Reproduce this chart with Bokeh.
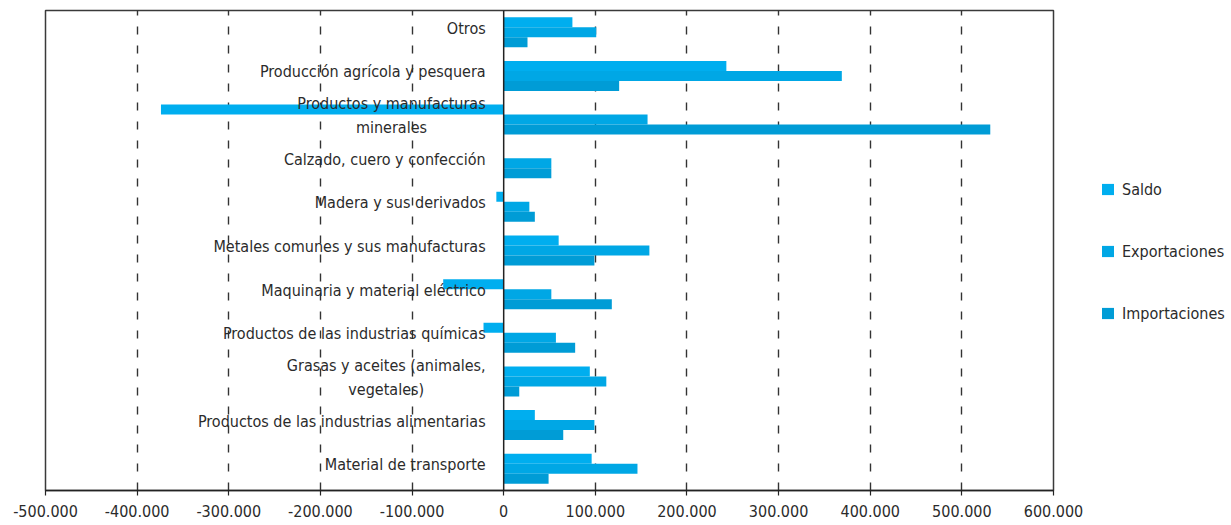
from bokeh.plotting import figure
from bokeh.models import Range1d, FactorRange, FixedTicker, Span, Legend, LegendItem, ColumnDataSource
from bokeh.transform import dodge
from bokeh.embed import file_html
from bokeh.resources import INLINE
from bokeh.core.properties import value

categories = [
    "Otros",
    "Producción agrícola y pesquera",
    "Productos y manufacturas\nminerales",
    "Calzado, cuero y confección",
    "Madera y sus derivados",
    "Metales comunes y sus manufacturas",
    "Maquinaria y material eléctrico",
    "Productos de las industrias químicas",
    "Grasas y aceites (animales,\nvegetales)",
    "Productos de las industrias alimentarias",
    "Material de transporte",
]
saldo = [75000, 243000, -374000, 0, -8000, 60000, -66000, -22000, 94000, 34000, 96000]
exportaciones = [101000, 369000, 157000, 52000, 28000, 159000, 52000, 57000, 112000, 99000, 146000]
importaciones = [26000, 126000, 531000, 52000, 34000, 99000, 118000, 78000, 17000, 65000, 49000]

series_names = ["Saldo", "Exportaciones", "Importaciones"]
colors = ["#00AEEF", "#00A7E5", "#009CD6"]

tick_values = [-500000, -400000, -300000, -200000, -100000, 0, 100000, 200000, 300000, 400000, 500000, 600000]
tick_labels = ["-500.000", "-400.000", "-300.000", "-200.000", "-100.000", "0",
               "100.000", "200.000", "300.000", "400.000", "500.000", "600.000"]

FONT = "DejaVu Sans Condensed, Roboto Condensed, Roboto"
TXT = "#2b2b2b"

src = ColumnDataSource(dict(cat=categories, Saldo=saldo, Exportaciones=exportaciones,
                            Importaciones=importaciones))

p = figure(frame_width=1008, frame_height=480, output_backend="svg", toolbar_location=None,
           x_range=Range1d(-500000, 600000),
           y_range=FactorRange(*reversed(categories), range_padding=0),
           min_border_left=45, min_border_right=10, min_border_top=10, min_border_bottom=35)

p.outline_line_color = "#3a3a3a"
p.outline_line_width = 1.5
p.background_fill_color = "white"
p.border_fill_color = "white"

# axes
p.yaxis.visible = False
p.ygrid.visible = False
xa = p.xaxis[0]
xa.ticker = FixedTicker(ticks=tick_values)
xa.major_label_overrides = {v: l for v, l in zip(tick_values, tick_labels)}
xa.major_label_text_font = FONT
xa.major_label_text_font_size = "16px"
xa.major_label_text_color = TXT
xa.axis_line_color = "#222222"
xa.axis_line_width = 1.5
xa.major_tick_line_color = "#222222"
xa.major_tick_line_width = 1.2
xa.major_tick_out = 5
xa.major_tick_in = 0
xa.minor_tick_line_color = None
xa.major_label_standoff = 9

p.xgrid.ticker = FixedTicker(ticks=[t for t in tick_values if t != 0])
p.xgrid.grid_line_color = "#333333"
p.xgrid.grid_line_width = 1.4
p.xgrid.grid_line_dash = "8 11"

bar_h = 0.229
offsets = [-bar_h, 0, bar_h]
renderers = []
for name, col, off in zip(series_names, colors, offsets):
    r = p.hbar(y=dodge("cat", -off, range=p.y_range), left=0, right=name, height=bar_h,
               fill_color=col, line_color=None, source=src)
    renderers.append(r)

p.add_layout(Span(location=0, dimension="height", line_color="#222222", line_width=1.5))

p.text(x=0, y="cat", text="cat", source=src, x_offset=-18, y_offset=-4,
       anchor="center_right", text_align="center", text_baseline="middle",
       text_font=value(FONT), text_font_size="16px", text_color=TXT, text_line_height=1.25)

legend = Legend(items=[LegendItem(label=n, renderers=[r]) for n, r in zip(series_names, renderers)],
                location=(47, 166), orientation="vertical")
legend.margin = 0
legend.padding = 0
legend.border_line_color = None
legend.background_fill_alpha = 0
legend.glyph_width = 15
legend.glyph_height = 14
legend.label_height = 22
legend.label_standoff = 7
legend.spacing = 40
legend.label_text_font = FONT
legend.label_text_font_size = "16px"
legend.label_text_color = TXT
p.add_layout(legend, "right")

open("out.html", "w").write(file_html(p, INLINE))
